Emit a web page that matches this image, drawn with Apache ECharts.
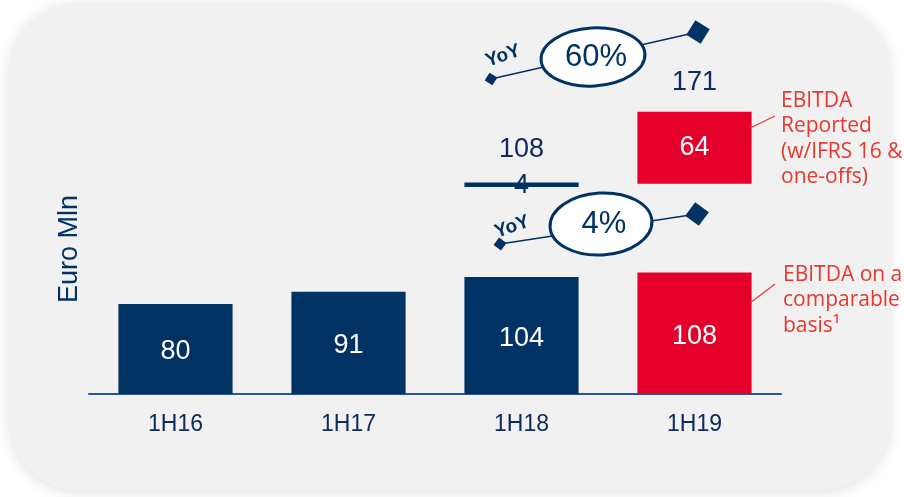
<!DOCTYPE html>
<html>
<head>
<meta charset="utf-8">
<script src="https://cdn.jsdelivr.net/npm/echarts@6/dist/echarts.min.js"></script>
<style>
html,body{margin:0;padding:0;background:#ffffff;}
#chart{width:904px;height:497px;}
</style>
</head>
<body>
<div id="chart"></div>
<script>
// ---- data ----
var categories = ['1H16', '1H17', '1H18', '1H19'];
var comparable = [80, 91, 104, 108];          // EBITDA on a comparable basis
var reportedTotal = [null, null, 108, 171];   // totals shown above
var reportedExtra = [null, null, 4, 64];      // upper segments
var yoyTexts = ['4%', '60%'];
var yAxisTitle = 'Euro Mln';
var noteReported = ['EBITDA', 'Reported', '(w/IFRS 16 &', 'one-offs)'];
var noteComparable = ['EBITDA on a', 'comparable', 'basis\u00b9'];

// ---- styles ----
var NAVY = '#003263';
var RED = '#e4002b';
var NOTE_RED = '#e8372e';
var TXT = '#0f2a60';
var FONT = '"Liberation Sans", Arial, sans-serif';

var barColors = [NAVY, NAVY, NAVY, RED];

var chart = echarts.init(document.getElementById('chart'), null, {renderer: 'canvas'});

var upperBase = reportedTotal.map(function (t, i) {
  return (t == null || reportedExtra[i] == null) ? null : t - reportedExtra[i];
});

function diamond(cx, cy, h, ang) {
  var pts = [];
  for (var k = 0; k < 4; k++) {
    var a = ang + k * Math.PI / 2;
    pts.push([cx + h * Math.cos(a), cy + h * Math.sin(a)]);
  }
  return pts;
}

function yoyGroup(x1, y1, x2, y2, ecx, ecy, rx, ry, txt, yx, yy) {
  var ang = Math.atan2(y2 - y1, x2 - x1);
  return [
    {type: 'line', z: 50, shape: {x1: x1, y1: y1, x2: x2, y2: y2}, style: {stroke: NAVY, lineWidth: 1.5}},
    {type: 'polygon', z: 51, shape: {points: diamond(x1, y1, 6.5, ang)}, style: {fill: NAVY}},
    {type: 'polygon', z: 51, shape: {points: diamond(x2, y2, 12, ang)}, style: {fill: NAVY}},
    {type: 'ellipse', z: 52, shape: {cx: ecx, cy: ecy, rx: rx, ry: ry}, rotation: 0.06, originX: ecx, originY: ecy,
      style: {fill: '#ffffff', stroke: NAVY, lineWidth: 3}},
    {type: 'text', z: 53, style: {text: txt, x: ecx + 3, y: ecy, textAlign: 'center', textVerticalAlign: 'middle',
      fill: NAVY, font: '31px ' + FONT}},
    {type: 'text', z: 53, x: yx, y: yy, rotation: 0.33, style: {text: 'YoY', x: 0, y: 0, textAlign: 'center', textVerticalAlign: 'middle',
      fill: NAVY, font: 'bold 19px ' + FONT}}
  ];
}

var graphics = [
  {type: 'rect', z: -10, shape: {x: 10, y: 3, width: 880, height: 487, r: 68},
    style: {fill: '#f1f1f1', shadowBlur: 14, shadowColor: 'rgba(0,0,0,0.13)', shadowOffsetX: 0, shadowOffsetY: 2}},
  {type: 'text', z: 20, x: 70, y: 249, rotation: Math.PI / 2,
    style: {text: yAxisTitle, x: 0, y: 0, textAlign: 'center', textVerticalAlign: 'middle', fill: NAVY, font: '27px ' + FONT}},
  {type: 'line', z: 20, shape: {x1: 750, y1: 128, x2: 775, y2: 116}, style: {stroke: NOTE_RED, lineWidth: 1.2}},
  {type: 'line', z: 20, shape: {x1: 750, y1: 303, x2: 775, y2: 284}, style: {stroke: NOTE_RED, lineWidth: 1.2}},
  {type: 'text', z: 20, style: {text: noteReported.join('\n'), x: 781, y: 88, lineHeight: 25.5,
    fill: NOTE_RED, font: '21px "Open Sans", sans-serif'}},
  {type: 'text', z: 20, style: {text: noteComparable.join('\n'), x: 783, y: 262, lineHeight: 25.5,
    fill: NOTE_RED, font: '21px "Open Sans", sans-serif'}}
].concat(
  yoyGroup(491, 79, 698, 32, 593, 57, 52, 29, yoyTexts[1], 503, 56),
  yoyGroup(500, 244, 697, 214, 601, 224, 51, 31, yoyTexts[0], 512, 227)
);

var gridPos = {left: 89, right: 123, top: 34, bottom: 103};

var option = {
  backgroundColor: '#ffffff',
  animation: false,
  grid: [Object.assign({}, gridPos), Object.assign({}, gridPos)],
  xAxis: [
    {type: 'category', gridIndex: 0, data: categories,
      axisLine: {show: true, lineStyle: {color: '#2d5596', width: 2}},
      axisTick: {show: false},
      axisLabel: {color: TXT, fontSize: 23, fontFamily: FONT, margin: 19}},
    {type: 'category', gridIndex: 1, data: categories, show: false}
  ],
  yAxis: [
    {type: 'value', gridIndex: 0, min: 0, max: 320, show: false, splitLine: {show: false}},
    {type: 'value', gridIndex: 1, min: -80, max: 240, show: false, splitLine: {show: false}}
  ],
  series: [
    {
      name: 'comparable', type: 'bar', xAxisIndex: 0, yAxisIndex: 0, barWidth: '66%',
      data: comparable.map(function (v, i) { return {value: v, itemStyle: {color: barColors[i]}}; }),
      label: {show: true, position: 'inside', offset: [0, 3], color: '#ffffff', fontSize: 27, fontFamily: FONT}
    },
    {
      name: 'base', type: 'bar', xAxisIndex: 1, yAxisIndex: 1, stack: 'up', barWidth: '66%',
      data: upperBase, itemStyle: {color: 'rgba(0,0,0,0)'}, silent: true, clip: false
    },
    {
      name: 'reported', type: 'bar', xAxisIndex: 1, yAxisIndex: 1, stack: 'up', barWidth: '66%', clip: false,
      data: reportedExtra.map(function (v, i) { return {value: v, itemStyle: {color: barColors[i]},
        label: {color: i === 3 ? '#ffffff' : NAVY, offset: i === 3 ? [0, 0] : [0, 1]}}; }),
      label: {show: true, position: 'inside', fontSize: 27, fontFamily: FONT}
    },
    {
      name: 'total', type: 'scatter', xAxisIndex: 1, yAxisIndex: 1, symbolSize: 0, z: 5, clip: false,
      itemStyle: {opacity: 1},
      data: reportedTotal.map(function (v, i) { return {value: v, label: {distance: i === 3 ? 16 : 19}}; }),
      label: {show: true, position: 'top', color: TXT, opacity: 1, fontSize: 27, fontFamily: FONT}
    }
  ],
  graphic: {elements: graphics}
};

chart.setOption(option);
</script>
</body>
</html>
